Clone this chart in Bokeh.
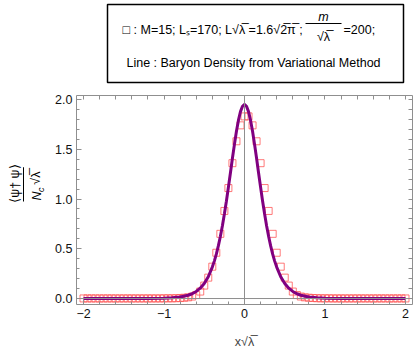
from bokeh.plotting import figure
from bokeh.layouts import column, row
from bokeh.models import LinearAxis, Range1d, FixedTicker, Span, Label, BoxAnnotation
from bokeh.embed import file_html
from bokeh.resources import INLINE

# ---------------- data ----------------
sq_x = [round(-2.0 + 0.05 * i, 2) for i in range(81)]
sq_y_left = [0.001, 0.001, 0.001, 0.001, 0.001, 0.001, 0.001, 0.001, 0.001, 0.001,
             0.001, 0.001, 0.001, 0.001, 0.001, 0.001, 0.001, 0.001, 0.001, 0.001,
             0.002, 0.002, 0.002, 0.003, 0.005, 0.008, 0.012, 0.02, 0.035, 0.07,
             0.13, 0.21, 0.32, 0.46, 0.65, 0.88, 1.11, 1.36, 1.58, 1.74, 1.83]
sq_y_right = [1.83, 1.74, 1.58, 1.36, 1.11, 0.88, 0.65, 0.46, 0.32, 0.21,
              0.13, 0.07, 0.035, 0.02, 0.012, 0.008, 0.005, 0.003, 0.002, 0.002,
              0.002, 0.001, 0.001, 0.001, 0.001, 0.001, 0.001, 0.001, 0.001, 0.001,
              0.001, 0.001, 0.001, 0.001, 0.001, 0.001, 0.001, 0.001, 0.001, 0.001]
sq_y = sq_y_left + sq_y_right

line_x = [-2.0, -1.5, -1.2, -1.0, -0.9, -0.8, -0.7, -0.65, -0.6, -0.55, -0.5, -0.45,
          -0.4, -0.375, -0.35, -0.325, -0.3, -0.275, -0.25, -0.225, -0.2, -0.175,
          -0.15, -0.125, -0.1, -0.075, -0.05, -0.025, 0.0,
          0.025, 0.05, 0.075, 0.1, 0.125, 0.15, 0.175, 0.2, 0.225, 0.25, 0.275,
          0.3, 0.325, 0.35, 0.375, 0.4, 0.45, 0.5, 0.55, 0.6, 0.65, 0.7, 0.8, 0.9,
          1.0, 1.2, 1.5, 2.0]
line_y = [0.0, 0.0001, 0.0007, 0.003, 0.007, 0.015, 0.033, 0.048, 0.071, 0.104, 0.151,
          0.219, 0.316, 0.376, 0.446, 0.529, 0.623, 0.728, 0.850, 0.978, 1.118, 1.262,
          1.409, 1.549, 1.681, 1.792, 1.878, 1.932, 1.95,
          1.932, 1.878, 1.792, 1.681, 1.549, 1.409, 1.262, 1.118, 0.978, 0.850, 0.728,
          0.623, 0.529, 0.446, 0.376, 0.316, 0.219, 0.151, 0.104, 0.071, 0.048, 0.033,
          0.015, 0.007, 0.003, 0.0007, 0.0001, 0.0]

x_ticks = [-2, -1, 0, 1, 2]
x_tick_labels = ["\u22122", "\u22121", "0", "1", "2"]
y_ticks = [0.0, 0.5, 1.0, 1.5, 2.0]
y_tick_labels = ["0.0", "0.5", "1.0", "1.5", "2.0"]

legend_line1 = "\u25a1 : M=15; L\u209b=170; L\u221a\u03bb\u0305 =1.6\u221a2\u0305\u03c0\u0305 ;"
legend_frac_num = "m"
legend_frac_den = "\u221a\u03bb\u0305"
legend_tail = "=200;"
legend_line2 = "Line : Baryon Density from Variational Method"
y_label_num = "\u27e8\u03c8\u2020 \u03c8\u27e9"
y_label_den_N = "N"
y_label_den_c = "c"
y_label_den_root = "\u221a\u03bb\u0305"
x_label = "x\u221a\u03bb\u0305"

# ---------------- styles ----------------
FONT = "Liberation Sans"
GRAY = "#8f8f8f"
TOTAL_W = 414
LEG_H = 87
YLAB_W = 48
BODY_H = 268


def blank_fig(w, h, x0, x1, ytop, ybot):
    """figure whose data coordinates equal page pixel coordinates"""
    f = figure(width=w, height=h, output_backend="svg", toolbar_location=None,
               x_range=Range1d(x0, x1), y_range=Range1d(ybot, ytop),
               min_border=0, x_axis_location=None, y_axis_location=None)
    f.grid.visible = False
    f.outline_line_color = None
    f.border_fill_color = "white"
    return f


def label(f, text, px, py, size="12.5px", align="center", angle=0, style="normal"):
    f.add_layout(Label(x=px, y=py, text=text, text_font=FONT, text_font_size=size,
                       text_align=align, text_baseline="middle", angle=angle,
                       angle_units="deg", text_font_style=style, text_color="black"))


def box(f, left, right, top, bottom, line_w=0, fill=None):
    f.add_layout(BoxAnnotation(left=left, right=right, top=top, bottom=bottom,
                               fill_color=fill, fill_alpha=1.0 if fill else 0,
                               line_color="black" if line_w else None,
                               line_width=line_w, line_alpha=1.0))


# ---------------- legend (top) ----------------
leg = blank_fig(TOTAL_W, LEG_H, 0, TOTAL_W, 0, LEG_H)
box(leg, 107, 403, 4, 82, line_w=1.5)
label(leg, legend_line1, 122, 29, align="left")
label(leg, legend_frac_num, 323, 16, style="italic")
box(leg, 305, 341, 22.5, 23.5, fill="black")
label(leg, legend_frac_den, 323, 36)
label(leg, legend_tail, 343, 29, align="left")
label(leg, legend_line2, 253, 62)

# ---------------- y label (left) ----------------
ylab = blank_fig(YLAB_W, BODY_H, 0, YLAB_W, LEG_H, LEG_H + BODY_H)
label(ylab, y_label_num, 14, 200, angle=90)
box(ylab, 22.5, 23.5, 179, 223, fill="black")
label(ylab, y_label_den_N, 36, 216, angle=90, style="italic")
label(ylab, y_label_den_c, 40, 208, size="9px", angle=90, style="italic")
label(ylab, y_label_den_root, 35, 193, angle=90)

# ---------------- main plot ----------------
p = figure(width=TOTAL_W - YLAB_W, height=BODY_H, output_backend="svg", toolbar_location=None,
           x_range=Range1d(-2.087, 2.087), y_range=Range1d(-0.06, 2.04),
           min_border_left=28, min_border_right=2, min_border_top=8,
           min_border_bottom=51, x_axis_location=None, y_axis_location=None)
p.grid.visible = False
p.outline_line_color = None
p.border_fill_color = "white"

x_minor = [round(-2.0 + 0.2 * i, 1) for i in range(21)]
y_minor = [round(0.1 * i, 1) for i in range(21)]


def make_axis(ticks, minor, labels):
    ax = LinearAxis(ticker=FixedTicker(ticks=ticks, minor_ticks=minor))
    ax.axis_line_color = GRAY
    ax.major_tick_line_color = GRAY
    ax.minor_tick_line_color = GRAY
    ax.major_tick_in = 5
    ax.major_tick_out = 0
    ax.minor_tick_in = 3
    ax.minor_tick_out = 0
    ax.major_label_overrides = {t: l for t, l in zip(ticks, labels)}
    ax.major_label_text_font = FONT
    ax.major_label_text_font_size = "12.5px"
    ax.major_label_text_color = "#111111"
    ax.major_label_standoff = 4
    return ax


def frame_axis(all_ticks):
    ax = LinearAxis(ticker=FixedTicker(ticks=[], minor_ticks=all_ticks))
    ax.axis_line_color = GRAY
    ax.minor_tick_line_color = GRAY
    ax.minor_tick_in = 4
    ax.minor_tick_out = 0
    ax.major_tick_in = 0
    ax.major_tick_out = 0
    ax.major_label_standoff = 0
    return ax


xax = make_axis(x_ticks, x_minor, x_tick_labels)
xax.axis_label = x_label
xax.axis_label_text_font = FONT
xax.axis_label_text_font_style = "normal"
xax.axis_label_text_font_size = "12.5px"
xax.axis_label_standoff = 14
p.add_layout(xax, "below")
p.add_layout(make_axis(y_ticks, y_minor, y_tick_labels), "left")
p.add_layout(frame_axis(x_minor), "above")
p.add_layout(frame_axis(y_minor), "right")

p.add_layout(Span(location=0, dimension="height", line_color=GRAY, line_width=1))
p.add_layout(Span(location=0, dimension="width", line_color=GRAY, line_width=1))

p.scatter(sq_x, sq_y, marker="square", size=7, fill_color=None,
          line_color="#ff4d4d", line_alpha=0.75, line_width=1)
p.line(line_x, line_y, line_color="#800080", line_width=3)

layout = column(leg, row(ylab, p, spacing=0), spacing=0)
open("out.html", "w").write(file_html(layout, INLINE))
